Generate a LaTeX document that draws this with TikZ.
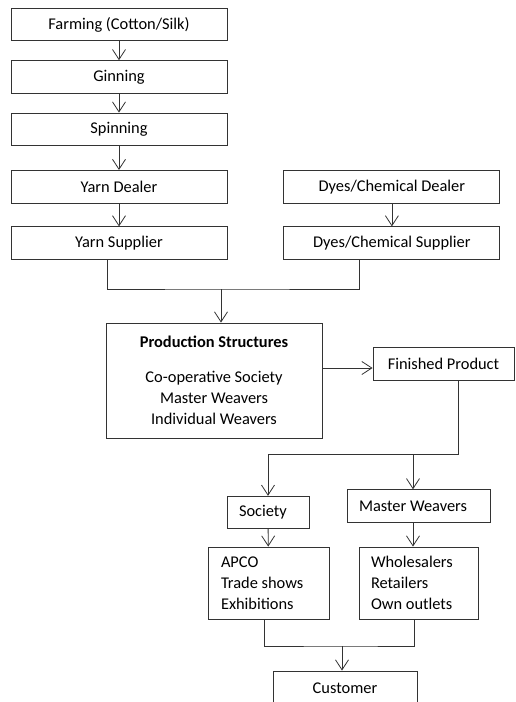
\documentclass[tikz,border=0pt]{standalone}
\usepackage{fontspec}
\setmainfont{Carlito}
\usetikzlibrary{arrows.meta,positioning}

\tikzset{
  box/.style={draw=black!80, line width=0.9pt, inner sep=0pt, minimum height=32.5pt,
    align=center, font=\fontsize{16.4}{21}\selectfont},
  widebox/.style={box, minimum width=216pt},
  listbox/.style={box, align=flush left, inner xsep=12pt},
  flow/.style={draw=black!80, line width=0.8pt},
}

\begin{document}
\begin{tikzpicture}[x=1pt, y=-1pt, >={Straight Barb[length=10pt,width=13pt]}, node distance=19pt]
		\clip (0,0) rectangle (515,702);
		% supply chain
		\node[widebox] (farm) at (119,24.5) {Farming (Cotton/Silk)};
		\node[widebox] (gin) [below=of farm] {Ginning};
		\node[widebox] (spin) [below=of gin] {Spinning};
		\node[widebox] (ydeal) [below=24pt of spin] {Yarn Dealer};
		\node[widebox] (ysup) [below=23pt of ydeal] {Yarn Supplier};
		\node[widebox] (ddeal) [right=56pt of ydeal] {Dyes/Chemical Dealer};
		\node[widebox] (dsup) [below=23pt of ddeal] {Dyes/Chemical Supplier};
		% production
		\node[widebox, minimum height=115pt] (prod) at (214,380.5)
			{\textbf{Production Structures}\\[14pt]Co-operative Society\\Master Weavers\\Individual Weavers};
		\node[box, minimum width=141pt] (fin) at (443.5,364) {Finished Product};
		% marketing
		\node[listbox, text width=58pt] (soc) at (268,512.5) {Society};
		\node[listbox, text width=119pt] (mw) at (418.5,506) {Master Weavers};
		\node[listbox, text width=95pt, inner xsep=13pt, minimum height=72pt] (apco) at (268.5,583)
			{APCO\\Trade shows\\Exhibitions};
		\node[listbox, text width=95pt, minimum height=72pt] (whole) at (418.5,583)
			{Wholesalers\\Retailers\\Own outlets};
		\node[box, minimum width=144pt, minimum height=34pt] (cust) at (345,688) {Customer};

		\coordinate (merge) at (221,289);
		\coordinate (fork) at (413,454);
		\coordinate (join) at (342,646);

		\path[flow, ->]
		(farm) edge (gin)
		(gin) edge (spin)
		(spin) edge (ydeal)
		(ydeal) edge (ysup)
		(ddeal) edge (dsup)
		(soc) edge (apco)
		;
		\draw[flow] ([xshift=-12pt]ysup.south) |- (merge) -| ([xshift=-32.5pt]dsup.south);
		\draw[flow, ->] (merge) -- (merge |- prod.north);
		\draw[flow, ->] ([yshift=-4pt]fin.west -| prod.east) -- ([yshift=-4pt]fin.west);
		\draw[flow, ->] ([xshift=14.5pt]fin.south) |- (soc.north |- fork) -- (soc.north);
		\draw[flow, ->] (fork) -- (fork |- mw.north);
		\draw[flow, ->] (mw.south -| fork) -- (whole.north -| fork);
		\draw[flow] ([xshift=-4.5pt]apco.south) |- (join) -| ([xshift=-4.5pt]whole.south);
		\draw[flow, ->] (join) -- (join |- cust.north);
	\end{tikzpicture}
\end{document}
